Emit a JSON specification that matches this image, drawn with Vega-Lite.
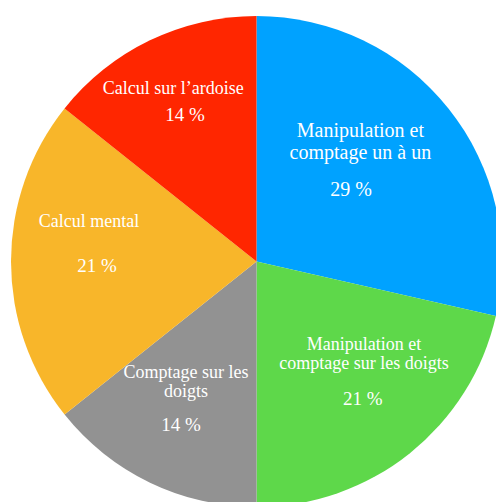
{
  "$schema": "https://vega.github.io/schema/vega-lite/v6.json",
  "width": 491,
  "height": 491,
  "autosize": "none",
  "padding": {"left": 11, "top": 16, "right": 0, "bottom": 0},
  "background": "white",
  "data": {"values": [
    {"idx": 1, "cat": "Manipulation et comptage un à un", "name": "Manipulation et\ncomptage un à un", "pct": "29 %", "value": 28.57},
    {"idx": 2, "cat": "Manipulation et comptage sur les doigts", "name": "Manipulation et\ncomptage sur les doigts", "pct": "21 %", "value": 21.43},
    {"idx": 3, "cat": "Comptage sur les doigts", "name": "Comptage sur les\ndoigts", "pct": "14 %", "value": 14.29},
    {"idx": 4, "cat": "Calcul mental", "name": "Calcul mental", "pct": "21 %", "value": 21.43},
    {"idx": 5, "cat": "Calcul sur l’ardoise", "name": "Calcul sur l’ardoise", "pct": "14 %", "value": 14.29}
  ]},
  "encoding": {
    "theta": {"field": "value", "type": "quantitative", "stack": true},
    "order": {"field": "idx", "type": "quantitative"},
    "detail": {"field": "cat", "type": "nominal"}
  },
  "layer": [
    {
      "mark": {"type": "arc", "stroke": null},
      "encoding": {
        "color": {"field": "cat", "type": "nominal", "legend": null,
          "scale": {"domain": ["Manipulation et comptage un à un", "Manipulation et comptage sur les doigts", "Comptage sur les doigts", "Calcul mental", "Calcul sur l’ardoise"],
                    "range": ["#00A2FF", "#5ED84A", "#929292", "#F8B62A", "#FF2600"]}}
      }
    },
    {
      "mark": {"type": "text", "radius": 158.5, "dx": -20, "dy": -26, "font": "Liberation Serif", "fontSize": 20, "lineHeight": 22, "lineBreak": "\n", "fill": "white", "align": "center", "baseline": "alphabetic"},
      "encoding": {"text": {"condition": {"test": "datum.idx === 1", "field": "name"}, "value": ""}}
    },
    {
      "mark": {"type": "text", "radius": 114.7, "dx": 5, "dy": 6, "font": "Liberation Serif", "fontSize": 20, "fill": "white", "align": "center", "baseline": "alphabetic"},
      "encoding": {"text": {"condition": {"test": "datum.idx === 1", "field": "pct"}, "value": ""}}
    },
    {
      "mark": {"type": "text", "radius": 136.2, "dx": 22.6, "dy": -18, "font": "Liberation Serif", "fontSize": 18, "lineHeight": 19, "lineBreak": "\n", "fill": "white", "align": "center", "baseline": "alphabetic"},
      "encoding": {"text": {"condition": {"test": "datum.idx === 2", "field": "name"}, "value": ""}}
    },
    {
      "mark": {"type": "text", "radius": 178.6, "dx": -5, "dy": 4, "font": "Liberation Serif", "fontSize": 19, "fill": "white", "align": "center", "baseline": "alphabetic"},
      "encoding": {"text": {"condition": {"test": "datum.idx === 2", "field": "pct"}, "value": ""}}
    },
    {
      "mark": {"type": "text", "radius": 135.6, "dx": -11.7, "dy": -5.7, "font": "Liberation Serif", "fontSize": 18, "lineHeight": 19, "lineBreak": "\n", "fill": "white", "align": "center", "baseline": "alphabetic"},
      "encoding": {"text": {"condition": {"test": "datum.idx === 3", "field": "name"}, "value": ""}}
    },
    {
      "mark": {"type": "text", "radius": 185.5, "dx": 5, "dy": 2.4, "font": "Liberation Serif", "fontSize": 19, "fill": "white", "align": "center", "baseline": "alphabetic"},
      "encoding": {"text": {"condition": {"test": "datum.idx === 3", "field": "pct"}, "value": ""}}
    },
    {
      "mark": {"type": "text", "radius": 167.5, "dx": 0, "dy": -34.5, "font": "Liberation Serif", "fontSize": 18, "fill": "white", "align": "center", "baseline": "alphabetic"},
      "encoding": {"text": {"condition": {"test": "datum.idx === 4", "field": "name"}, "value": ""}}
    },
    {
      "mark": {"type": "text", "radius": 159.5, "dx": 0, "dy": 10.5, "font": "Liberation Serif", "fontSize": 19, "fill": "white", "align": "center", "baseline": "alphabetic"},
      "encoding": {"text": {"condition": {"test": "datum.idx === 4", "field": "pct"}, "value": ""}}
    },
    {
      "mark": {"type": "text", "radius": 187, "dx": -2, "dy": 1, "font": "Liberation Serif", "fontSize": 18, "fill": "white", "align": "center", "baseline": "alphabetic"},
      "encoding": {"text": {"condition": {"test": "datum.idx === 5", "field": "name"}, "value": ""}}
    },
    {
      "mark": {"type": "text", "radius": 158, "dx": -3, "dy": 1.5, "font": "Liberation Serif", "fontSize": 19, "fill": "white", "align": "center", "baseline": "alphabetic"},
      "encoding": {"text": {"condition": {"test": "datum.idx === 5", "field": "pct"}, "value": ""}}
    }
  ],
  "config": {"view": {"stroke": null}}
}
